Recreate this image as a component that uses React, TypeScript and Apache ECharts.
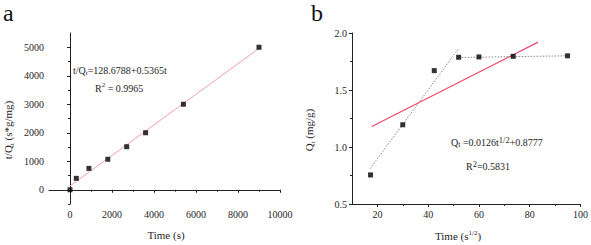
import React, { useEffect, useRef } from "react";
import * as echarts from "echarts";

// Panel a: pseudo-second-order plot
const aTime = [0, 300, 900, 1800, 2700, 3600, 5400, 9000];
const aTQ = [0, 400, 750, 1070, 1510, 2000, 3000, 5000];
const aFitX = [0, 9000];
const aFitY = [130, 4960];
const aXLabels = [0, 2000, 4000, 6000, 8000, 10000];
const aXMinor = [1000, 3000, 5000, 7000, 9000];
const aYLabels = [0, 1000, 2000, 3000, 4000, 5000];
const aYMinor = [-500, 500, 1500, 2500, 3500, 4500];

// Panel b: intraparticle diffusion plot
const bSqrtT = [17.3, 30, 42.4, 52, 60, 73.5, 94.9];
const bQ = [0.755, 1.195, 1.67, 1.787, 1.79, 1.795, 1.8];
const bFitX = [17.8, 83.3];
const bFitY = [1.18, 1.92];
const bSeg1X = [17.1, 51.9];
const bSeg1Y = [0.81, 1.86];
const bSeg2X = [52, 94.9];
const bSeg2Y = [1.785, 1.8];
const bXLabels = [20, 40, 60, 80, 100];
const bXMinor = [30, 50, 70, 90];

const FONT = "Liberation Serif";
const TXT = "#262626";
const zip = (xs: number[], ys: number[]) => xs.map((x, i) => [x, ys[i]]);

const rich = {
  m: { fontFamily: FONT, fontSize: 11, fontWeight: "normal", lineHeight: 14, verticalAlign: "middle", fill: TXT },
  e: { fontFamily: FONT, fontSize: 10, fontWeight: "normal", lineHeight: 13, verticalAlign: "middle", fill: TXT },
  sub: { fontFamily: FONT, fontSize: 7, fontWeight: "normal", lineHeight: 8, verticalAlign: "bottom", fill: TXT },
  sup: { fontFamily: FONT, fontSize: 7, fontWeight: "normal", lineHeight: 8, verticalAlign: "top", fill: TXT },
  supb: { fontFamily: FONT, fontSize: 8.5, fontWeight: "normal", lineHeight: 8, verticalAlign: "top", fill: TXT },
  subb: { fontFamily: FONT, fontSize: 8, fontWeight: "normal", lineHeight: 8, verticalAlign: "bottom", fill: TXT },
};

export default function App() {
  const ref = useRef<HTMLDivElement>(null);
  useEffect(() => {
    if (!ref.current) return;
    const chart = echarts.init(ref.current, undefined, { renderer: "svg" });
    const axisLine = { show: true, lineStyle: { color: "#222", width: 1 } };
    const labelStyle = {
      fontFamily: FONT, fontSize: 10, fontWeight: "normal", color: TXT, margin: 5,
      formatter: (v: number) => String(v),
    };
    const majorTick = (vals: number[]) => ({ show: true, inside: false, length: 3, lineStyle: { color: "#222" }, customValues: vals });
    const minorAxisBase = {
      axisLine: { show: false },
      axisLabel: { show: false },
      splitLine: { show: false },
    };
    chart.setOption({
      animation: false,
      textStyle: { fontFamily: FONT, fontWeight: "normal" },
      grid: [
        { left: 49, top: 33, width: 231, height: 171 },
        { left: 352, top: 33, width: 231, height: 171 },
      ],
      xAxis: [
        {
          type: "value", gridIndex: 0, min: -1000, max: 10000, position: "bottom",
          axisLine, splitLine: { show: false },
          axisTick: majorTick(aXLabels),
          axisLabel: { ...labelStyle, customValues: aXLabels },
        },
        {
          type: "value", gridIndex: 0, min: -1000, max: 10000, position: "bottom", ...minorAxisBase,
          axisTick: { show: true, length: 2, lineStyle: { color: "#222" }, customValues: aXMinor },
        },
        {
          type: "value", gridIndex: 1, min: 10, max: 100, position: "bottom",
          axisLine, splitLine: { show: false },
          axisTick: majorTick(bXLabels),
          axisLabel: { ...labelStyle, customValues: bXLabels },
        },
        {
          type: "value", gridIndex: 1, min: 10, max: 100, position: "bottom", ...minorAxisBase,
          axisTick: { show: true, length: 2, lineStyle: { color: "#222" }, customValues: bXMinor },
        },
      ],
      yAxis: [
        {
          type: "value", gridIndex: 0, min: -500, max: 5500, position: "left",
          axisLine, splitLine: { show: false },
          axisTick: majorTick(aYLabels),
          axisLabel: { ...labelStyle, customValues: aYLabels },
        },
        {
          type: "value", gridIndex: 0, min: -500, max: 5500, position: "left", ...minorAxisBase,
          axisTick: { show: true, length: 2, lineStyle: { color: "#222" }, customValues: aYMinor },
        },
        {
          type: "value", gridIndex: 1, min: 0.5, max: 2.0, interval: 0.5, position: "left",
          axisLine, splitLine: { show: false },
          axisTick: { show: true, length: 3, lineStyle: { color: "#222" } },
          minorTick: { show: true, splitNumber: 2, length: 2, lineStyle: { color: "#222" } },
          axisLabel: { ...labelStyle, formatter: (v: number) => v.toFixed(1) },
        },
      ],
      series: [
        {
          type: "line", xAxisIndex: 0, yAxisIndex: 0, data: zip(aFitX, aFitY),
          symbol: "none", lineStyle: { color: "#f2a0b2", width: 1 }, z: 2,
        },
        {
          type: "scatter", xAxisIndex: 0, yAxisIndex: 0, data: zip(aTime, aTQ),
          symbol: "rect", symbolSize: 5, itemStyle: { color: "#000" }, z: 3,
        },
        {
          type: "line", xAxisIndex: 2, yAxisIndex: 2, data: zip(bSeg1X, bSeg1Y),
          symbol: "none", lineStyle: { color: "#8a8a8a", width: 1, type: [1.5, 1.5] }, z: 2,
        },
        {
          type: "line", xAxisIndex: 2, yAxisIndex: 2, data: zip(bSeg2X, bSeg2Y),
          symbol: "none", lineStyle: { color: "#8a8a8a", width: 1, type: [1.5, 1.5] }, z: 2,
        },
        {
          type: "line", xAxisIndex: 2, yAxisIndex: 2, data: zip(bFitX, bFitY),
          symbol: "none", lineStyle: { color: "#f0456a", width: 1.2 }, z: 2,
        },
        {
          type: "scatter", xAxisIndex: 2, yAxisIndex: 2, data: zip(bSqrtT, bQ),
          symbol: "rect", symbolSize: 5, itemStyle: { color: "#000" }, z: 3,
        },
      ],
      graphic: [
        { type: "text", left: 3, top: 1, style: { text: "a", fontFamily: FONT, fontSize: 24, fontWeight: "normal", fill: "#111" } },
        { type: "text", left: 311, top: 1, style: { text: "b", fontFamily: FONT, fontSize: 24, fontWeight: "normal", fill: "#111" } },
        {
          type: "text", x: 73, y: 70,
          style: { text: "{e|t/Q}{sub|t}{e|=128.6788+0.5365t}", rich, align: "left", verticalAlign: "middle" },
        },
        {
          type: "text", x: 95, y: 88,
          style: { text: "{e|R}{sup|2}{e| = 0.9965}", rich, align: "left", verticalAlign: "middle" },
        },
        {
          type: "text", x: 451, y: 142,
          style: { text: "{e|Q}{subb|t}{e| =0.0126t}{supb|1/2}{e|+0.8777}", rich, align: "left", verticalAlign: "middle" },
        },
        {
          type: "text", x: 466, y: 166,
          style: { text: "{e|R}{supb|2}{e|=0.5831}", rich, align: "left", verticalAlign: "middle" },
        },
        {
          type: "text", x: 166, y: 235,
          style: { text: "{m|Time (s)}", rich, align: "center", verticalAlign: "middle" },
        },
        {
          type: "text", x: 458, y: 236,
          style: { text: "{m|Time (s}{sup|1/2}{m|)}", rich, align: "center", verticalAlign: "middle" },
        },
        {
          type: "text", x: 8, y: 130, rotation: Math.PI / 2,
          style: { text: "{m|t/Q}{sub|t}{m| (s*g/mg)}", rich, align: "center", verticalAlign: "middle" },
        },
        {
          type: "text", x: 309, y: 130, rotation: Math.PI / 2,
          style: { text: "{m|Q}{sub|t}{m| (mg/g)}", rich, align: "center", verticalAlign: "middle" },
        },
      ],
    });
    return () => chart.dispose();
  }, []);
  return (
    <div
      ref={ref}
      style={{ position: "fixed", left: 0, top: 0, width: 591, height: 245, background: "#fff" }}
    />
  );
}
